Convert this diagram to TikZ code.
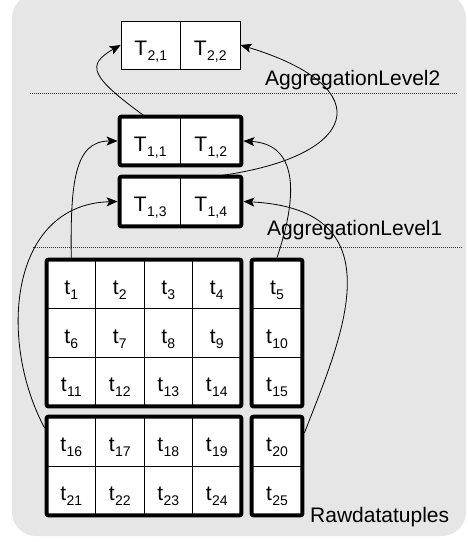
\documentclass[tikz,border=0pt]{standalone}
\usepackage{fontspec}
\setmainfont{Liberation Sans}
\usetikzlibrary{fit,arrows.meta,calc}
\definecolor{bgc}{HTML}{E6E6E6}
\definecolor{sepc}{HTML}{333333}
\newcommand{\tsub}[2]{#1\kern0.3pt\raisebox{-5pt}{\fontsize{14}{14}\selectfont #2}}
\begin{document}
\begin{tikzpicture}[x=1pt,y=-1pt,
  cell/.style={draw=black,line width=0.8pt,fill=white,inner sep=0pt,
    minimum width=48.5pt,minimum height=48.67pt,text height=20pt,text depth=0pt,
    font=\fontsize{21}{25}\selectfont},
  thickbox/.style={draw=black,line width=4pt,rounded corners=2pt,inner sep=0pt},
  arr/.style={-{Stealth[length=11pt,width=9pt,inset=2.5pt]},line width=0.8pt},
  sep/.style={draw=sepc,line width=0.7pt,dash pattern=on 1pt off 1pt},
  lbl/.style={inner sep=0pt,font=\fontsize{21}{25}\selectfont}]
\useasboundingbox (0,0) rectangle (468,542);
\fill[bgc,rounded corners=24pt] (12,-6) rectangle (466,536);
% separators
\draw[sep] (30,93) -- (458,93);
\draw[sep] (33,247) -- (462,247);
% labels
\node[lbl,anchor=base west] (L2) at (265,85) {AggregationLevel2};
\node[lbl,anchor=base west] (L1) at (267,235) {AggregationLevel1};
\node[lbl,anchor=base west] (L0) at (310,522) {Rawdatatuples};
% level 2
\node[cell,minimum width=59.5pt,minimum height=48pt] (T21) at (150.75,45) {\tsub{T}{2,1}};
\node[cell,minimum width=59.5pt,minimum height=48pt] (T22) at (210.25,45) {\tsub{T}{2,2}};
% level 1
\node[cell,minimum width=60.5pt,minimum height=48pt] (T11) at (150.25,141) {\tsub{T}{1,1}};
\node[cell,minimum width=60.5pt,minimum height=48pt] (T12) at (210.75,141) {\tsub{T}{1,2}};
\node[cell,minimum width=60.5pt,minimum height=49pt] (T13) at (150.25,201.5) {\tsub{T}{1,3}};
\node[cell,minimum width=60.5pt,minimum height=49pt] (T14) at (210.75,201.5) {\tsub{T}{1,4}};
\node[thickbox,fit=(T11)(T12)] (A1) {};
\node[thickbox,fit=(T13)(T14)] (A2) {};
% raw tuples
\foreach \r/\y/\h in {0/284.3/48.67,1/333/48.67,2/381.7/48.67,3/441.5/49,4/490.5/49}{
  \foreach \c/\x in {1/71.25,2/119.75,3/168.25,4/216.75}{
    \pgfmathtruncatemacro\n{5*\r+\c}
    \node[cell,minimum height=\h pt] (t\n) at (\x,\y) {\tsub{t}{\n}};
  }
  \pgfmathtruncatemacro\m{5*\r+5}
  \node[cell,minimum width=50pt,minimum height=\h pt] (t\m) at (277,\y) {\tsub{t}{\m}};
}
\node[thickbox,fit=(t1)(t14)] (B1) {};
\node[thickbox,fit=(t5)(t15)] (B2) {};
\node[thickbox,fit=(t16)(t24)] (B3) {};
\node[thickbox,fit=(t20)(t25)] (B4) {};
% connectors
\draw[arr] ([xshift=-5pt]T11.north) .. controls +(-55,-40) and +(-35,20) .. (T21.west);
\draw[arr] ([xshift=2pt]T14.north) .. controls +(147,-18) and +(142,43) .. (T22.east);
\draw[arr] (t1.north) .. controls +(-1,-78) and +(-43,0) .. (A1.west);
\draw[arr] ([yshift=38pt]B3.west) .. controls +(-47,-88) and +(-108,3) .. (A2.west);
\draw[arr] (B2.north) .. controls +(23,-68) and +(52,3) .. (A1.east);
\draw[arr] ([yshift=33pt]B4.east) .. controls +(36,-93) and +(157,8) .. (A2.east);
\end{tikzpicture}
\end{document}
